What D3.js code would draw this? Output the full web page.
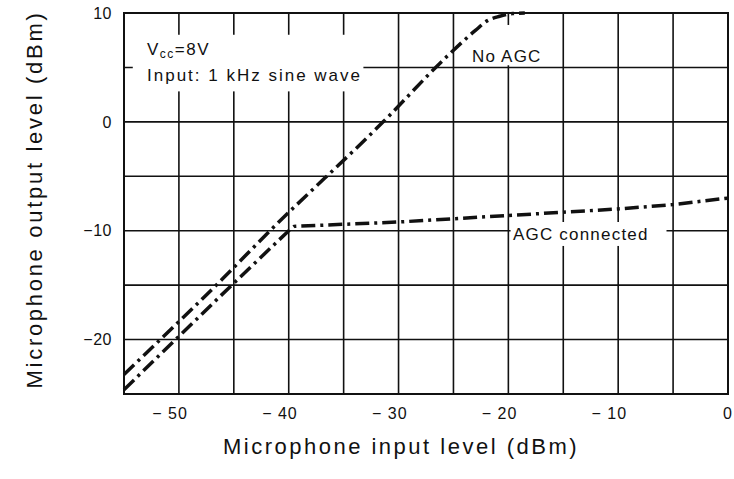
<!DOCTYPE html>
<html>
<head>
<meta charset="utf-8">
<script src="https://cdn.jsdelivr.net/npm/d3@7"></script>
<style>
  body { margin: 0; background: #fff; }
  text { font-family: "Liberation Sans", Arial, sans-serif; fill: #111; }
</style>
</head>
<body>
<div id="chart"></div>
<script>
// values
const xTicks = [-50, -40, -30, -20, -10, 0];
const yTicks = [10, 0, -10, -20];
const xGrid = [-50, -45, -40, -35, -30, -25, -20, -15, -10, -5];
const yGrid = [5, 0, -5, -10, -15, -20];

const noAgcIn  = [-55, -52, -46, -42, -31.4, -25.4, -23, -21.9, -20.8, -19.6, -18.5];
const noAgcOut = [-23.2, -20.3, -14.4, -10.3, 0, 6.2, 8.4, 9.3, 9.7, 9.95, 10];

const agcIn  = [-55, -50, -45.5, -40, -39.5, -30, -20, -10, -5, 0];
const agcOut = [-24.6, -19.7, -15.3, -10, -9.6, -9.2, -8.6, -8.0, -7.6, -7.0];

const width = 734, height = 479;
const margin = {left: 124, right: 6, top: 13, bottom: 85};

const svg = d3.select("#chart").append("svg")
  .attr("width", width).attr("height", height);

const x = d3.scaleLinear().domain([-55, 0]).range([margin.left, width - margin.right]);
const y = d3.scaleLinear().domain([-25, 10]).range([height - margin.bottom, margin.top]);

// grid
svg.append("g").selectAll("line").data(xGrid).enter().append("line")
  .attr("x1", d => x(d)).attr("x2", d => x(d))
  .attr("y1", y(10)).attr("y2", y(-25))
  .attr("stroke", "#111").attr("stroke-width", 1.6);

svg.append("g").selectAll("line").data(yGrid).enter().append("line")
  .attr("x1", x(-55)).attr("x2", x(0))
  .attr("y1", d => y(d)).attr("y2", d => y(d))
  .attr("stroke", "#111").attr("stroke-width", 1.6);

// frame
svg.append("rect")
  .attr("x", x(-55)).attr("y", y(10))
  .attr("width", x(0) - x(-55)).attr("height", y(-25) - y(10))
  .attr("fill", "none").attr("stroke", "#111").attr("stroke-width", 2);

// white patches behind labels
const patches = [
  {x0: -54.2, x1: -33.2, y0: 8, y1: 2.8},
  {x0: -23.9, x1: -16.9, y0: 8.9, y1: 5.2},
  {x0: -19.8, x1: -5.6, y0: -9.2, y1: -11.4}
];
svg.append("g").selectAll("rect").data(patches).enter().append("rect")
  .attr("x", d => x(d.x0)).attr("y", d => y(d.y0))
  .attr("width", d => x(d.x1) - x(d.x0)).attr("height", d => y(d.y1) - y(d.y0))
  .attr("fill", "#fff");

// curves
const line = d3.line().x(d => x(d[0])).y(d => y(d[1])).curve(d3.curveMonotoneX);

svg.append("path")
  .datum(noAgcIn.map((v, i) => [v, noAgcOut[i]]))
  .attr("d", line)
  .attr("fill", "none").attr("stroke", "#111").attr("stroke-width", 3.5)
  .attr("stroke-dasharray", "14,5,3,5");

svg.append("path")
  .datum(agcIn.map((v, i) => [v, agcOut[i]]))
  .attr("d", d3.line().x(d => x(d[0])).y(d => y(d[1])))
  .attr("fill", "none").attr("stroke", "#111").attr("stroke-width", 3.5)
  .attr("stroke-dasharray", "14,5,3,5");

// tick labels
const fmt = d => (d < 0 ? "\u2212 " : "") + Math.abs(d);

svg.append("g").selectAll("text").data(yTicks).enter().append("text")
  .attr("x", margin.left - 12).attr("y", d => y(d)).attr("dy", "0.36em")
  .attr("text-anchor", "end").attr("font-size", 16).attr("letter-spacing", 0.5)
  .text(d => (d < 0 ? "\u2212" : "") + Math.abs(d));

svg.append("g").selectAll("text").data(xTicks).enter().append("text")
  .attr("x", d => x(d) + (Math.abs(d) >= 10 ? 9 : 5)).attr("y", 419)
  .attr("text-anchor", "end").attr("font-size", 16).attr("letter-spacing", 1)
  .text(fmt);

// axis titles
svg.append("text")
  .attr("x", 401).attr("y", 454)
  .attr("text-anchor", "middle").attr("font-size", 22).attr("letter-spacing", 2.5)
  .text("Microphone input level (dBm)");

svg.append("text")
  .attr("transform", `translate(42,${(y(10) + y(-25)) / 2 - 4}) rotate(-90)`)
  .attr("text-anchor", "middle").attr("font-size", 22).attr("letter-spacing", 2.7)
  .text("Microphone output level (dBm)");

// annotations
const vcc = svg.append("text").attr("x", 147).attr("y", 55).attr("font-size", 17).attr("letter-spacing", 1.5);
vcc.append("tspan").text("V");
vcc.append("tspan").attr("font-size", 12).attr("dy", 3).text("cc");
vcc.append("tspan").attr("dy", -3).text("=8V");

svg.append("text")
  .attr("x", 147).attr("y", 81).attr("font-size", 17).attr("letter-spacing", 2)
  .text("Input: 1 kHz sine wave");

svg.append("text")
  .attr("x", 472).attr("y", 62).attr("font-size", 17).attr("letter-spacing", 1.2)
  .text("No AGC");

svg.append("text")
  .attr("x", 513).attr("y", 240).attr("font-size", 17).attr("letter-spacing", 1.2)
  .text("AGC connected");
</script>
</body>
</html>
